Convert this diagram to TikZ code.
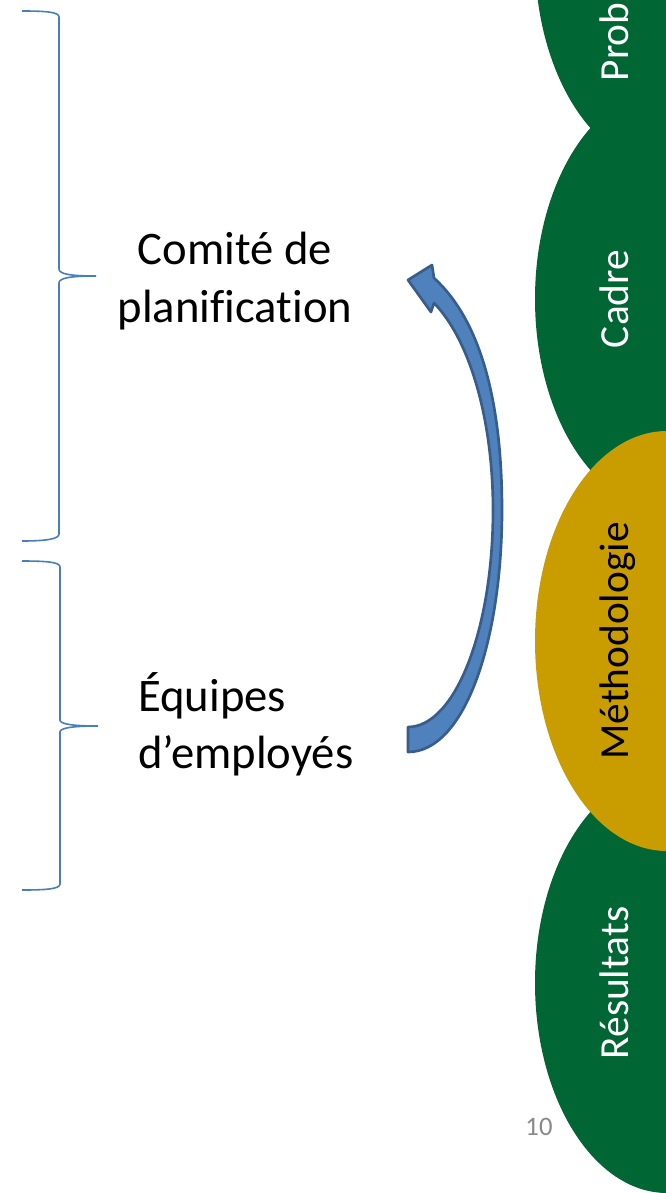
\documentclass[tikz,border=0pt]{standalone}
\usepackage{fontspec}
\setmainfont{Carlito}[Ligatures=NoCommon]
\usetikzlibrary{shapes.geometric}
\definecolor{vert}{RGB}{0,102,51}
\definecolor{ocre}{RGB}{201,157,0}
\definecolor{bleuFleche}{RGB}{79,129,189}
\definecolor{bleuBord}{RGB}{56,93,138}
\definecolor{bleuAccol}{RGB}{74,126,187}
\definecolor{gris}{RGB}{137,137,137}
\begin{document}
\begin{tikzpicture}[x=0.75pt, y=0.75pt]
\tikzset{bulle/.style={ellipse, inner sep=0pt, minimum width=198pt, minimum height=315pt},
etiquette/.style={rotate=90, anchor=base, inner sep=0pt, font=\fontsize{31}{37}\selectfont},
accolade/.style={draw=bleuAccol, line width=1.2pt},
texte/.style={inner sep=0pt, font=\fontsize{35}{43}\selectfont}}
\useasboundingbox (0,0) rectangle (666,-1193);
\clip (0,0) rectangle (666,-1193);
\fill[white] (0,0) rectangle (666,-1193);
\node[bulle, fill=vert] (E1) at (667,43) {};
\node[bulle, fill=vert] (E2) at (667,-299) {};
\node[bulle, fill=vert] (E4) at (667,-983) {};
\node[bulle, fill=ocre] (E3) at (667,-641) {};
\node[etiquette, text=white] (L1) at (628,43) {Problématique};
\node[etiquette, text=white] (L2) at (628,-299) {Cadre};
\node[etiquette, text=black] (L3) at (628,-641) {Méthodologie};
\node[etiquette, text=white] (L4) at (628,-983) {Résultats};
\draw[accolade] (22,-11) .. controls (46,-11) and (59,-12) .. (59,-17) -- (59,-269)
  .. controls (59,-274) and (70,-276) .. (96,-276) .. controls (70,-276) and (59,-278) .. (59,-283)
  -- (59,-534) .. controls (59,-539) and (46,-541) .. (22,-541);
\draw[accolade] (22,-561) .. controls (46,-561) and (60,-562) .. (60,-567) -- (60,-720)
  .. controls (60,-724) and (72,-726) .. (98,-726) .. controls (72,-726) and (60,-728) .. (60,-732)
  -- (60,-884) .. controls (60,-889) and (46,-890) .. (22,-890);
\node[texte, align=center] (T1) at (235,-281) {Comité de\\planification};
\node[texte, align=left, anchor=west] (T2) at (138,-724) {Équipes\\d’employés};
\filldraw[fill=bleuFleche, draw=bleuBord, line width=2pt, line join=round]
  (408,-752) .. controls (465,-752) and (502,-640) .. (502,-510)
  .. controls (502,-400) and (480,-320) .. (434,-278) -- (432,-265) -- (408,-280)
  -- (431,-312) -- (434,-303) .. controls (470,-340) and (493,-420) .. (493,-510)
  .. controls (493,-630) and (455,-727) .. (408,-727) -- cycle;
\node[text=gris, font=\fontsize{20}{24}\selectfont] (N) at (539,-1127) {10};
\end{tikzpicture}
\end{document}
